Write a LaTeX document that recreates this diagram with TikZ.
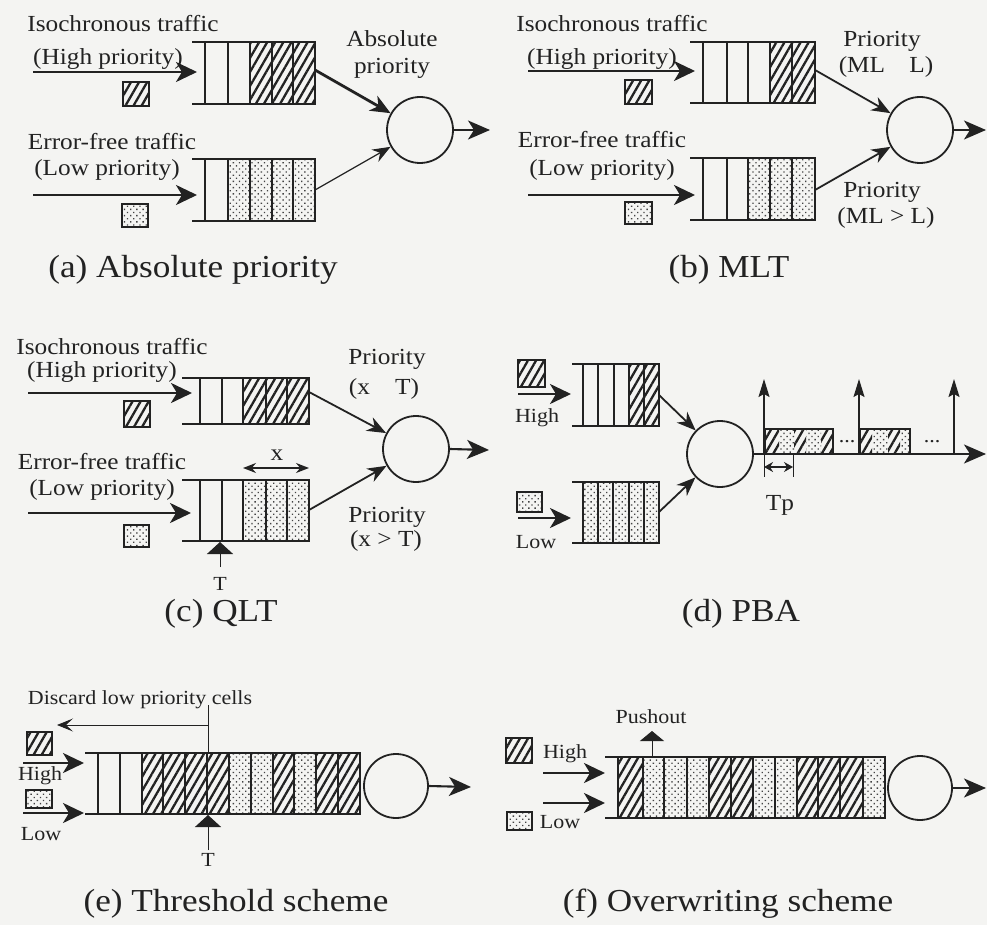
\documentclass[tikz,border=0pt]{standalone}
\usepackage{fontspec}
\setmainfont{Liberation Serif}[FakeStretch=1.1]
\usetikzlibrary{arrows.meta,patterns.meta}
\definecolor{bg}{RGB}{244,244,242}
\definecolor{ink}{RGB}{34,34,34}
\tikzset{
  lbl/.style={anchor=base, inner sep=0pt, font=\fontsize{23}{26}\selectfont, text=ink},
  sml/.style={anchor=base, inner sep=0pt, font=\fontsize{20}{23}\selectfont, text=ink},
  captxt/.style={anchor=base, inner sep=0pt, font=\fontsize{32}{36}\selectfont, text=ink},
  qline/.style={draw=ink, line width=1.8pt},
  hatchfill/.style={pattern={Lines[angle=60,distance=7pt,line width=2.3pt]}, pattern color=ink},
  dotfill/.style={pattern={Dots[angle=45,distance=4.4pt,radius=0.95pt]}, pattern color=ink!85},
  server/.style={circle, draw=ink, line width=1.8pt, minimum size=66pt, inner sep=0pt},
  inarrow/.style={draw=ink, line width=2.6pt, -{Stealth[length=21pt,width=20pt,inset=6pt]}},
  thickarrow/.style={draw=ink, line width=2.8pt, -{Stealth[length=20pt,width=17pt,inset=6pt]}},
  midarrow/.style={draw=ink, line width=1.8pt, -{Stealth[length=19pt,width=15pt,inset=6pt]}},
  thinarrow/.style={draw=ink, line width=1.2pt, -{Stealth[length=18pt,width=14pt,inset=6pt]}},
  outarrow/.style={draw=ink, line width=2.1pt, -{Stealth[length=22pt,width=19pt,inset=6pt]}},
  vertarrow/.style={draw=ink, line width=1.4pt, -{Stealth[length=18pt,width=11pt,inset=3pt]}},
  triarrow/.style={draw=ink, line width=1pt, -{Triangle[length=12pt,width=26pt]}},
  dblarrow/.style={draw=ink, line width=1.4pt, {Stealth[length=13pt,width=10pt]}-{Stealth[length=13pt,width=10pt]}},
  discarrow/.style={draw=ink, line width=1pt, -{Stealth[length=16pt,width=13pt,inset=7pt]}},
}
\newcommand\Queue[5]{% #1 top, #2 bottom, #3 left, #4 right, #5 dividers
  \foreach \qx in {#5} {\draw[qline] (\qx,#1) -- (\qx,#2);}
  \draw[qline] (#3,#1) -- (#4,#1) -- (#4,#2) -- (#3,#2);
}
\begin{document}
\begin{tikzpicture}[x=1pt,y=-1pt]
\useasboundingbox (0,0) rectangle (987,925);
\fill[bg] (0,0) rectangle (987,925);

% ---------------- (a) ----------------
\node[lbl] (a-iso) at (123,32) {Isochronous traffic};
\node[lbl] (a-hp) at (108,65) {(High priority)};
\node[lbl] (a-ef) at (112,150) {Error-free traffic};
\node[lbl] (a-lp) at (107,176) {(Low priority)};
\node[lbl] (a-abs1) at (392,47) {Absolute};
\node[lbl] (a-abs2) at (392,74) {priority};
\node[captxt] (a-cap) at (193,277) {(a) Absolute priority};
\path[hatchfill] (250,42) rectangle (315,104);
\Queue{42}{104}{192}{315}{205,228,250,272,293}
\path[dotfill] (228,159) rectangle (315,221);
\Queue{159}{221}{192}{315}{205,228,250,272,293}
\path[hatchfill,qline] (123,82) rectangle (149,106);
\path[dotfill,draw=ink,line width=1.2pt] (122,204) rectangle (148,227);
\coordinate (a-in1s) at (33,72); \coordinate (a-in1e) at (197,72);
\coordinate (a-in2s) at (33,195); \coordinate (a-in2e) at (197,195);
\draw[inarrow] (a-in1s) -- (a-in1e);
\draw[inarrow] (a-in2s) -- (a-in2e);
\node[server] (a-srv) at (420,130) {};
\coordinate (a-q1) at (315,70); \coordinate (a-q2) at (315,190);
\draw[thickarrow] (a-q1) -- (a-srv);
\draw[thinarrow] (a-q2) -- (a-srv);
\coordinate (a-out) at (490,130);
\draw[outarrow] (a-srv.east) -- (a-out);

% ---------------- (b) ----------------
\node[lbl] (b-iso) at (612,32) {Isochronous traffic};
\node[lbl] (b-hp) at (602,65) {(High priority)};
\node[lbl] (b-ef) at (602,148) {Error-free traffic};
\node[lbl] (b-lp) at (602,176) {(Low priority)};
\node[lbl] (b-p1) at (882,47) {Priority};
\node[lbl] (b-p1b) at (886,73) {(ML\hspace{1.05em}L)};
\node[lbl] (b-p2) at (882,198) {Priority};
\node[lbl] (b-p2b) at (886,224) {(ML > L)};
\node[captxt] (b-cap) at (729,277) {(b) MLT};
\path[hatchfill] (770,42) rectangle (815,103);
\Queue{42}{103}{690}{815}{703,727,748,770,792}
\path[dotfill] (748,158) rectangle (815,220);
\Queue{158}{220}{690}{815}{703,727,748,770,792}
\path[hatchfill,qline] (625,80) rectangle (652,104);
\path[dotfill,draw=ink,line width=1.2pt] (625,202) rectangle (652,224);
\coordinate (b-in1s) at (528,71); \coordinate (b-in1e) at (695,71);
\coordinate (b-in2s) at (528,195); \coordinate (b-in2e) at (695,195);
\draw[inarrow] (b-in1s) -- (b-in1e);
\draw[inarrow] (b-in2s) -- (b-in2e);
\node[server] (b-srv) at (920,130) {};
\coordinate (b-q1) at (815,70); \coordinate (b-q2) at (815,190);
\draw[midarrow] (b-q1) -- (b-srv);
\draw[midarrow] (b-q2) -- (b-srv);
\coordinate (b-out) at (986,130);
\draw[outarrow] (b-srv.east) -- (b-out);

% ---------------- (c) ----------------
\node[lbl] (c-iso) at (112,354) {Isochronous traffic};
\node[lbl] (c-hp) at (102,377) {(High priority)};
\node[lbl] (c-ef) at (102,469) {Error-free traffic};
\node[lbl] (c-lp) at (102,495) {(Low priority)};
\node[lbl] (c-p1) at (387,364) {Priority};
\node[lbl] (c-p1b) at (384,394) {(x\hspace{1.1em}T)};
\node[lbl] (c-p2) at (387,522) {Priority};
\node[lbl] (c-p2b) at (386,546) {(x > T)};
\node[lbl] (c-x) at (277,460) {x};
\node[sml] (c-T) at (220,590) {T};
\node[captxt] (c-cap) at (221,621) {(c) QLT};
\path[hatchfill] (243,378) rectangle (309,424);
\Queue{378}{424}{182}{309}{200,222,243,266,287}
\path[dotfill] (243,480) rectangle (309,541);
\Queue{480}{541}{182}{309}{200,222,243,266,287}
\path[hatchfill,qline] (124,401) rectangle (150,427);
\path[dotfill,draw=ink,line width=1.2pt] (124,525) rectangle (149,547);
\coordinate (c-in1s) at (28,393); \coordinate (c-in1e) at (192,393);
\coordinate (c-in2s) at (28,513); \coordinate (c-in2e) at (191,513);
\draw[inarrow] (c-in1s) -- (c-in1e);
\draw[inarrow] (c-in2s) -- (c-in2e);
\coordinate (c-xa) at (243,468); \coordinate (c-xb) at (309,468);
\draw[dblarrow] (c-xa) -- (c-xb);
\coordinate (c-Tb) at (220,567); \coordinate (c-Tt) at (220,542);
\draw[triarrow] (c-Tb) -- (c-Tt);
\node[server] (c-srv) at (416,449) {};
\coordinate (c-q1) at (309,392); \coordinate (c-q2) at (309,510);
\draw[midarrow] (c-q1) -- (c-srv);
\draw[midarrow] (c-q2) -- (c-srv);
\coordinate (c-out) at (489,450);
\draw[outarrow] (c-srv.east) -- (c-out);

% ---------------- (d) ----------------
\node[sml] (d-high) at (537,422) {High};
\node[sml] (d-low) at (536,548) {Low};
\node[lbl] (d-tp) at (780,510) {Tp};
\node[captxt] (d-cap) at (741,621) {(d) PBA};
\path[hatchfill,qline] (518,360) rectangle (545,387);
\path[dotfill,draw=ink,line width=1.2pt] (517,492) rectangle (542,512);
\path[hatchfill] (629,364) rectangle (659,426);
\Queue{364}{426}{572}{659}{583,598,614,629,644}
\path[dotfill] (583,482) rectangle (659,543);
\Queue{482}{543}{572}{659}{583,598,613,629,644}
\coordinate (d-in1s) at (518,394); \coordinate (d-in1e) at (571,394);
\coordinate (d-in2s) at (518,518); \coordinate (d-in2e) at (571,518);
\draw[inarrow] (d-in1s) -- (d-in1e);
\draw[inarrow] (d-in2s) -- (d-in2e);
\node[server] (d-srv) at (720,454) {};
\coordinate (d-q1) at (659,395); \coordinate (d-q2) at (659,512);
\draw[midarrow] (d-q1) -- (d-srv);
\draw[midarrow] (d-q2) -- (d-srv);
% slot cells on the output line
\path[hatchfill] (765,429) rectangle (779,454);
\path[dotfill] (779,429) rectangle (794,454);
\path[hatchfill] (794,429) rectangle (806,454);
\path[dotfill] (806,429) rectangle (821,454);
\path[hatchfill] (821,429) rectangle (833,454);
\draw[draw=ink,line width=1.2pt] (765,429) rectangle (833,454);
\path[hatchfill] (860,429) rectangle (872,454);
\path[dotfill] (872,429) rectangle (888,454);
\path[hatchfill] (888,429) rectangle (900,454);
\path[dotfill] (900,429) rectangle (910,454);
\draw[draw=ink,line width=1.2pt] (860,429) rectangle (910,454);
\node[sml] (d-dots1) at (847,442) {...};
\node[sml] (d-dots2) at (932,442) {...};
\coordinate (d-out) at (986,454);
\draw[outarrow] (d-srv.east) -- (d-out);
\coordinate (d-v1b) at (764,454); \coordinate (d-v1t) at (764,379);
\coordinate (d-v2b) at (859,454); \coordinate (d-v2t) at (859,379);
\coordinate (d-v3b) at (954,454); \coordinate (d-v3t) at (954,379);
\draw[vertarrow] (d-v1b) -- (d-v1t);
\draw[vertarrow] (d-v2b) -- (d-v2t);
\draw[vertarrow] (d-v3b) -- (d-v3t);
\draw[draw=ink,line width=1pt] (764,454) -- (764,477) (793,454) -- (793,477);
\coordinate (d-tpa) at (764,467); \coordinate (d-tpb) at (793,467);
\draw[draw=ink, line width=1.3pt, {Stealth[length=9pt,width=10pt]}-{Stealth[length=9pt,width=10pt]}] (d-tpa) -- (d-tpb);

% ---------------- (e) ----------------
\node[sml] (e-disc) at (140,704) {Discard low priority cells};
\node[sml] (e-high) at (40,780) {High};
\node[sml] (e-low) at (41,840) {Low};
\node[sml] (e-T) at (208,866) {T};
\node[captxt] (e-cap) at (236,911) {(e) Threshold scheme};
\coordinate (e-d1) at (208,725); \coordinate (e-d2) at (57,725);
\draw[discarrow] (e-d1) -- (e-d2);
\draw[draw=ink,line width=1pt] (208,705) -- (208,753);
\path[hatchfill] (142,753) rectangle (229,814);
\path[dotfill] (229,753) rectangle (273,814);
\path[hatchfill] (273,753) rectangle (294,814);
\path[dotfill] (294,753) rectangle (316,814);
\path[hatchfill] (316,753) rectangle (360,814);
\Queue{753}{814}{85}{360}{98,120,142,163,185,207,229,251,273,294,316,338}
\path[hatchfill,qline] (27,732) rectangle (52,755);
\path[dotfill,draw=ink,line width=1.2pt] (26,790) rectangle (52,808);
\coordinate (e-in1s) at (23,763); \coordinate (e-in1e) at (84,763);
\coordinate (e-in2s) at (23,813); \coordinate (e-in2e) at (84,813);
\draw[inarrow] (e-in1s) -- (e-in1e);
\draw[inarrow] (e-in2s) -- (e-in2e);
\coordinate (e-Tb) at (208,850); \coordinate (e-Tt) at (208,815);
\draw[triarrow] (e-Tb) -- (e-Tt);
\node[server, minimum size=64pt] (e-srv) at (396,786) {};
\coordinate (e-out) at (471,787);
\draw[outarrow] (e-srv.east) -- (e-out);

% ---------------- (f) ----------------
\node[sml] (f-push) at (651,723) {Pushout};
\node[sml] (f-high) at (565,758) {High};
\node[sml] (f-low) at (560,828) {Low};
\node[captxt] (f-cap) at (728,911) {(f) Overwriting scheme};
\path[hatchfill,qline] (506,738) rectangle (532,763);
\path[dotfill,draw=ink,line width=1.2pt] (507,812) rectangle (532,830);
\path[hatchfill] (618,757) rectangle (643,818);
\path[dotfill] (643,757) rectangle (709,818);
\path[hatchfill] (709,757) rectangle (753,818);
\path[dotfill] (753,757) rectangle (797,818);
\path[hatchfill] (797,757) rectangle (863,818);
\path[dotfill] (863,757) rectangle (885,818);
\Queue{757}{818}{605}{885}{618,643,664,687,709,731,753,775,797,818,840,863}
\coordinate (f-in1s) at (543,773); \coordinate (f-in1e) at (605,773);
\coordinate (f-in2s) at (543,803); \coordinate (f-in2e) at (605,803);
\draw[inarrow] (f-in1s) -- (f-in1e);
\draw[inarrow] (f-in2s) -- (f-in2e);
\coordinate (f-pb) at (652,757); \coordinate (f-pt) at (652,731);
\draw[draw=ink, line width=1pt, -{Triangle[length=10pt,width=24pt]}] (f-pb) -- (f-pt);
\node[server, minimum size=64pt] (f-srv) at (920,788) {};
\coordinate (f-out) at (986,788);
\draw[outarrow] (f-srv.east) -- (f-out);
\end{tikzpicture}
\end{document}
